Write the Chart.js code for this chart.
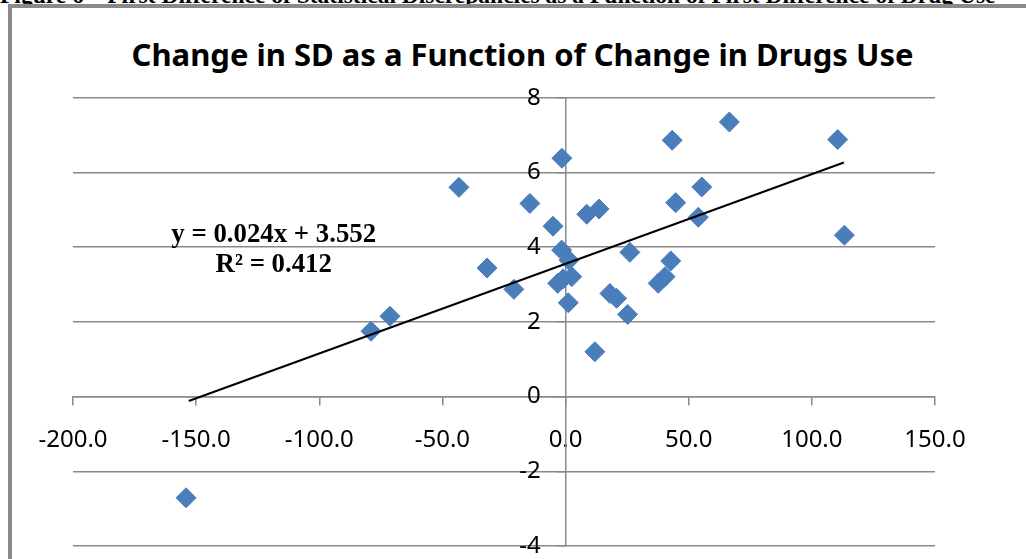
<!DOCTYPE html>
<html>
<head>
<meta charset="utf-8">
<script src="https://cdn.jsdelivr.net/npm/chart.js@4.4.1/dist/chart.umd.min.js"></script>
<style>
  html, body { margin: 0; padding: 0; background: #fff; overflow: hidden; }
  #caption { position: absolute; left: 0; top: -17px; font: bold 23.5px 'Liberation Serif', serif; line-height: 24px; white-space: nowrap; color: #000; }
  #frame { position: absolute; left: 8px; top: 4px; width: 1100px; height: 600px; border: 4px solid #8a8a8a; }
  #title { position: absolute; left: 0; top: 36px; width: 1045px; text-align: center; font: bold 31px 'Noto Sans', sans-serif; line-height: 37px; white-space: nowrap; color: #000; }
  #wrap { position: absolute; left: 0; top: 0; width: 1026px; height: 559px; }
</style>
</head>
<body>
<div id="caption">Figure 6 – First Difference of Statistical Discrepancies as a Function of First Difference of Drug Use</div>
<div id="frame"></div>
<div id="title">Change in SD as a Function of Change in Drugs Use</div>
<div id="wrap"><canvas id="chart"></canvas></div>
<script>
  // values
  const drugChange = [-154.1, -79.0, -71.3, -43.3, -31.9, -21.0, -14.5, -5.1, -1.5, -1.6, 1.4, -3.2, -1.0, 2.5, 1.1,
    8.6, 13.6, 11.9, 18.0, 20.7, 25.2, 26.1, 37.6, 40.4, 42.7, 43.3, 44.7, 53.9, 55.3, 66.5, 110.5, 113.2];
  const sdChange = [-2.71, 1.75, 2.15, 5.60, 3.44, 2.87, 5.17, 4.56, 6.38, 3.92, 3.65, 3.03, 3.15, 3.21, 2.51,
    4.88, 5.02, 1.20, 2.76, 2.63, 2.20, 3.86, 3.03, 3.21, 3.63, 6.86, 5.19, 4.80, 5.61, 7.35, 6.88, 4.32];

  // linear trend as printed on the chart
  const trendSlope = 0.024;
  const trendIntercept = 3.552;
  const trendRange = [-153, 113];
  const equationLines = ['y = 0.024x + 3.552', 'R² = 0.412'];
  const equationAnchor = [-118.5, 4.14];

  const xRange = [-200, 150];
  const yRange = [-4, 8];
  const xStep = 50;
  const yStep = 2;

  const gridColor = '#8a8a8a';
  const markerColor = '#4a7ebb';

  const points = drugChange.map((x, i) => ({ x: x, y: sdChange[i] }));
  const trendPoints = trendRange.map(x => ({ x: x, y: trendSlope * x + trendIntercept }));

  const equationLabel = {
    id: 'equationLabel',
    afterDatasetsDraw(chart) {
      const { ctx, scales } = chart;
      const px = scales.x.getPixelForValue(equationAnchor[0]);
      const py = scales.y.getPixelForValue(equationAnchor[1]);
      ctx.save();
      ctx.font = 'bold 26.8px "Liberation Serif"';
      ctx.fillStyle = '#000';
      ctx.textAlign = 'center';
      ctx.textBaseline = 'alphabetic';
      equationLines.forEach((t, i) => ctx.fillText(t, px, py + i * 30));
      ctx.restore();
    }
  };

  const tickFont = { family: 'Noto Sans', size: 24, lineHeight: 1 };

  new Chart(document.getElementById('chart'), {
    type: 'scatter',
    data: {
      datasets: [
        {
          type: 'line',
          data: trendPoints,
          borderColor: '#000',
          borderWidth: 2,
          pointRadius: 0,
          fill: false,
          order: 0
        },
        {
          data: points,
          pointStyle: 'rectRot',
          pointRadius: 10,
          backgroundColor: markerColor,
          borderColor: markerColor,
          borderWidth: 1,
          order: 1
        }
      ]
    },
    options: {
      responsive: true,
      maintainAspectRatio: false,
      animation: false,
      events: [],
      // title is the html block above, so the plot starts below it
      layout: { padding: { left: 73, right: 91, top: 97.7, bottom: 13 } },
      plugins: {
        legend: { display: false },
        tooltip: { enabled: false },
        title: { display: false }
      },
      scales: {
        x: {
          type: 'linear',
          min: xRange[0],
          max: xRange[1],
          position: { y: 0 },
          ticks: {
            stepSize: xStep,
            autoSkip: false,
            maxRotation: 0,
            color: '#000',
            font: tickFont,
            padding: 24,
            callback: v => v.toFixed(1)
          },
          grid: { drawOnChartArea: false, drawTicks: true, tickLength: 8, color: gridColor, lineWidth: 1.5 },
          border: { color: gridColor, width: 1.5 }
        },
        y: {
          type: 'linear',
          min: yRange[0],
          max: yRange[1],
          position: { x: 0 },
          ticks: {
            stepSize: yStep,
            autoSkip: false,
            color: '#000',
            font: tickFont,
            padding: 0,
            // labels sit clear of the axis line, as in the original
            callback: v => v + '    '
          },
          grid: { color: gridColor, lineWidth: 1.5, tickLength: 8 },
          border: { color: gridColor, width: 1.5 }
        }
      }
    },
    plugins: [equationLabel]
  });
</script>
</body>
</html>
